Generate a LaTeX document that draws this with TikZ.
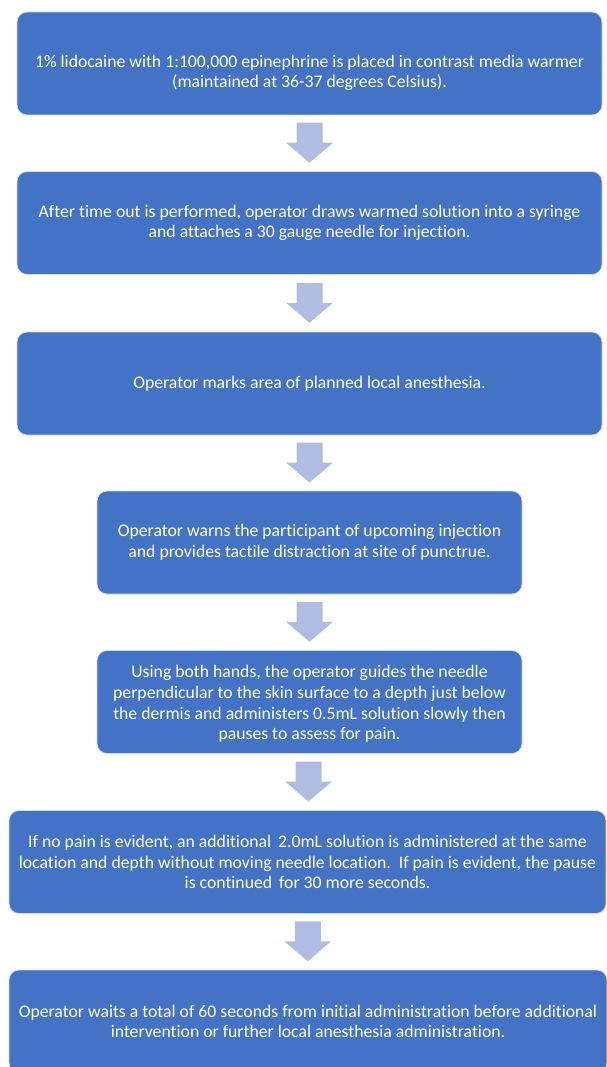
\documentclass[tikz,border=0pt]{standalone}
\usepackage{fontspec}
\setmainfont[Ligatures={NoCommon}]{Carlito}
\usetikzlibrary{calc}
\definecolor{boxblue}{HTML}{4472C4}
\definecolor{arrowblue}{HTML}{B0BDE0}
\tikzset{
  flowbox/.style={rectangle, rounded corners=10pt, fill=boxblue, draw=white!75!boxblue, line width=0.8pt,
    text=white, align=center, inner sep=0pt, minimum height=103pt,
    font=\fontsize{17.7pt}{20.7pt}\selectfont},
  arrowshape/.style={fill=arrowblue, draw=none}
}
\begin{document}
\begin{tikzpicture}[x=1pt,y=-1pt]
\useasboundingbox (0,0) rectangle (607,1067);
\clip (0,0) rectangle (607,1067);
\node[flowbox, minimum width=585pt] (b1) at (309.5,63.5) {\parbox{585pt}{\centering\vspace*{19pt}1\% lidocaine with 1:100,000 epinephrine is placed in contrast media warmer\\(maintained at 36-37 degrees Celsius).}};
\node[flowbox, minimum width=585pt] (b2) at (309.5,223) {After time out is performed, operator draws warmed solution into a syringe\\and attaches a 30 gauge needle for injection.};
\node[flowbox, minimum width=585pt] (b3) at (309.5,383.5) {Operator marks area of planned local anesthesia.};
\node[flowbox, minimum width=425pt] (b4) at (309.5,542.5) {Operator warns the participant of upcoming injection\\and provides tactile distraction at site of punctrue.};
\node[flowbox, minimum width=425pt] (b5) at (309.5,702) {\parbox{425pt}{\centering\vspace*{4pt}Using both hands, the operator guides the needle\\perpendicular to the skin surface to a depth just below\\the dermis and administers 0.5mL solution slowly then\\pauses to assess for pain.}};
\node[flowbox, minimum width=597pt] (b6) at (307.5,862) {If no pain is evident, an additional \,2.0mL solution is administered at the same\\location and depth without moving needle location.\ \ If pain is evident, the pause\\is continued \,for 30 more seconds.};
\node[flowbox, minimum width=598pt] (b7) at (308,1021.5) {Operator waits a total of 60 seconds from initial administration before additional\\intervention or further local anesthesia administration.};
\foreach \a/\b in {b1/b2,b2/b3,b3/b4,b4/b5,b5/b6,b6/b7}{
  \coordinate (m) at ($(\a.south)!0.5!(\b.north)$);
  \fill[arrowshape] ($(m)+(-13,-20.5)$) -- ($(m)+(13,-20.5)$) -- ($(m)+(13,-0.5)$) -- ($(m)+(23.5,-0.5)$)
    -- ($(m)+(0,19.5)$) -- ($(m)+(-23.5,-0.5)$) -- ($(m)+(-13,-0.5)$) -- cycle;
}
\end{tikzpicture}
\end{document}
